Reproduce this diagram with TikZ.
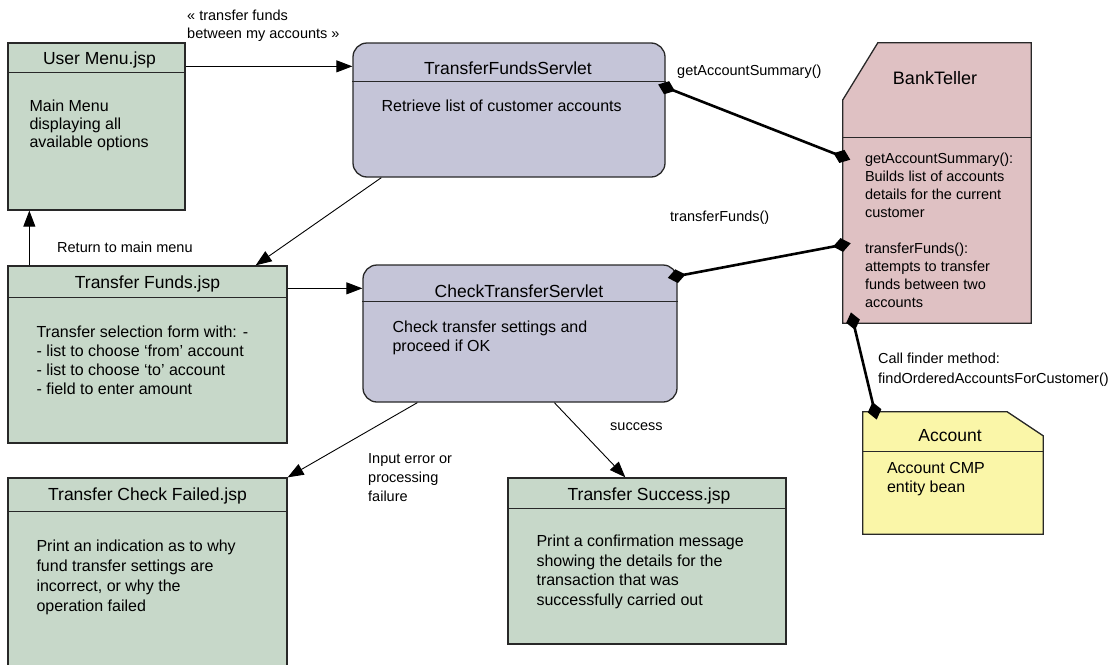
\documentclass[tikz,border=0pt]{standalone}
\usepackage{fontspec}
\setmainfont{Liberation Sans}
\usetikzlibrary{arrows.meta,calc}

\definecolor{jspgreen}{RGB}{199,216,201}
\definecolor{servletblue}{RGB}{197,197,216}
\definecolor{tellerpink}{RGB}{223,193,195}
\definecolor{beanyellow}{RGB}{250,246,168}
\definecolor{edgegray}{RGB}{40,40,40}

\begin{document}
\begin{tikzpicture}[x=1pt,y=-1pt,
  boxline/.style={draw=edgegray,line width=1.3pt},
  jspbox/.style={boxline,fill=jspgreen,inner sep=0pt},
  servletbox/.style={boxline,fill=servletblue,rounded corners=14pt,inner sep=0pt},
  shapebox/.style={draw=none,inner sep=0pt},
  boxtitle/.style={anchor=base,inner sep=0pt,font=\fontsize{17.5}{20}\selectfont},
  boxbody/.style={anchor=base west,inner sep=0pt,align=left,font=\fontsize{16}{19}\selectfont},
  linklabel/.style={anchor=base west,inner sep=0pt,align=left,font=\fontsize{14.5}{18}\selectfont},
  flowarrow/.style={line width=0.9pt,-{Triangle[length=16pt,width=12pt]}},
  calllink/.style={line width=2.6pt,{Diamond[length=18pt,width=14pt]}-{Diamond[length=18pt,width=14pt]},shorten <=-8pt,shorten >=-8pt}]
\useasboundingbox (0,0) rectangle (1113,664);
\clip (0,0) rectangle (1113,664);

% boxes
\node[jspbox,minimum width=177pt,minimum height=167pt] (usermenu) at (96.5,126.5) {};
\node[servletbox,minimum width=312pt,minimum height=134pt] (fundsservlet) at (509,110) {};
\node[shapebox,minimum width=188pt,minimum height=280pt] (teller) at (937,183) {};
\node[jspbox,minimum width=279pt,minimum height=177pt] (transferfunds) at (147.5,354.5) {};
\node[servletbox,minimum width=314pt,minimum height=137pt] (checkservlet) at (520,333.5) {};
\node[jspbox,minimum width=279pt,minimum height=210pt] (checkfailed) at (147.5,583) {};
\node[jspbox,minimum width=278pt,minimum height=166pt] (success) at (647,561) {};
\node[shapebox,minimum width=180pt,minimum height=122pt] (account) at (953,473) {};

\filldraw[boxline,fill=tellerpink] ($(teller.north west)+(0,57)$) -- ($(teller.north west)+(35,0)$)
  -- (teller.north east) -- (teller.south east) -- (teller.south west) -- cycle;
\filldraw[boxline,fill=beanyellow] (account.north west) -- ($(account.north east)+(-36,0)$)
  -- ($(account.north east)+(0,24)$) -- (account.south east) -- (account.south west) -- cycle;

% header lines
\draw[boxline] ($(usermenu.north west)+(0,30)$) -- ($(usermenu.north east)+(0,30)$);
\draw[boxline] ($(fundsservlet.north west)+(0,39)$) -- ($(fundsservlet.north east)+(0,39)$);
\draw[boxline] ($(teller.north west)+(0,95)$) -- ($(teller.north east)+(0,95)$);
\draw[boxline] ($(transferfunds.north west)+(0,32)$) -- ($(transferfunds.north east)+(0,32)$);
\draw[boxline] ($(checkservlet.north west)+(0,37)$) -- ($(checkservlet.north east)+(0,37)$);
\draw[boxline] ($(checkfailed.north west)+(0,34)$) -- ($(checkfailed.north east)+(0,34)$);
\draw[boxline] ($(success.north west)+(0,31)$) -- ($(success.north east)+(0,31)$);
\draw[boxline] ($(account.north west)+(0,40)$) -- ($(account.north east)+(0,40)$);

% titles
\node[boxtitle] (usermenutitle) at ($(usermenu.north)+(3,22)$) {User Menu.jsp};
\node[boxtitle] (fundsservlettitle) at ($(fundsservlet.north)+(-1,32)$) {TransferFundsServlet};
\node[boxtitle,font=\fontsize{18}{20}\selectfont] (tellertitle) at ($(teller.north)+(-2,42)$) {BankTeller};
\node[boxtitle] (transferfundstitle) at ($(transferfunds.north)+(0,23)$) {Transfer Funds.jsp};
\node[boxtitle] (checkservlettitle) at ($(checkservlet.north)+(-1,33)$) {CheckTransferServlet};
\node[boxtitle] (checkfailedtitle) at ($(checkfailed.north)+(0,23)$) {Transfer Check Failed.jsp};
\node[boxtitle] (successtitle) at ($(success.north)+(2,23)$) {Transfer Success.jsp};
\node[boxtitle] (accounttitle) at ($(account.north)+(-3,30)$) {Account};

% body texts (base = last line)
\node[boxbody,font=\fontsize{16}{18}\selectfont] (usermenutext) at ($(usermenu.north west)+(22,105)$) {Main Menu\\displaying all\\available options};
\node[boxbody] (fundsservlettext) at ($(fundsservlet.north west)+(29,69)$) {Retrieve list of customer accounts};
\node[linklabel] (tellertext) at ($(teller.north west)+(22,265)$) {getAccountSummary():\\Builds list of accounts\\details for the current\\customer\\[18pt]transferFunds():\\attempts to transfer\\funds between two\\accounts};
\node[boxbody] (transferfundstext) at ($(transferfunds.north west)+(29,129)$) {Transfer selection form with: -\\- list to choose `from' account\\- list to choose `to' account\\- field to enter amount};
\node[boxbody] (checkservlettext) at ($(checkservlet.north west)+(30,87)$) {Check transfer settings and\\proceed if OK};
\node[boxbody,font=\fontsize{16}{20}\selectfont] (checkfailedtext) at ($(checkfailed.north west)+(29,134)$) {Print an indication as to why\\fund transfer settings are\\incorrect, or why the\\operation failed};
\node[boxbody,font=\fontsize{16}{19.5}\selectfont] (successtext) at ($(success.north west)+(29,128)$) {Print a confirmation message\\showing the details for the\\transaction that was\\successfully carried out};
\node[boxbody] (accounttext) at ($(account.north west)+(24,81)$) {Account CMP\\entity bean};

% connectors
\draw[flowarrow] ($(usermenu.north east)+(0,24)$) -- ($(fundsservlet.north west)+(0,24)$);
\draw[flowarrow] ($(fundsservlet.south west)+(29,0)$) -- ($(transferfunds.north east)+(-32,0)$);
\draw[flowarrow] ($(transferfunds.north west)+(22,0)$) -- ($(usermenu.south west)+(22,0)$);
\draw[flowarrow] ($(transferfunds.north east)+(0,23)$) -- ($(checkservlet.north west)+(0,24)$);
\draw[flowarrow] ($(checkservlet.south west)+(55,0)$) -- (checkfailed.north east);
\draw[flowarrow] ($(checkservlet.south west)+(192,0)$) -- ($(success.north west)+(118,0)$);
\draw[calllink] ($(fundsservlet.north east)+(0,45)$) -- ($(teller.north west)+(0,114)$);
\draw[calllink] ($(checkservlet.north east)+(-2,12)$) -- ($(teller.north west)+(0,202)$);
\draw[calllink] ($(teller.south west)+(10,-3)$) -- ($(account.north west)+(12,0)$);

% connector labels
\node[linklabel] (transferlabel) at (187,38) {« transfer funds\\between my accounts »};
\node[linklabel] (summarylabel) at (677,75) {getAccountSummary()};
\node[linklabel] (fundslabel) at (670,221) {transferFunds()};
\node[linklabel] (returnlabel) at (57,252) {Return to main menu};
\node[linklabel,font=\fontsize{14.5}{19}\selectfont] (errorlabel) at (368,501) {Input error or\\processing\\failure};
\node[linklabel] (successlabel) at (610,430) {success};
\node[linklabel,font=\fontsize{14.5}{20}\selectfont] (finderlabel) at (878,383) {Call finder method:\\findOrderedAccountsForCustomer()};
\end{tikzpicture}
\end{document}
